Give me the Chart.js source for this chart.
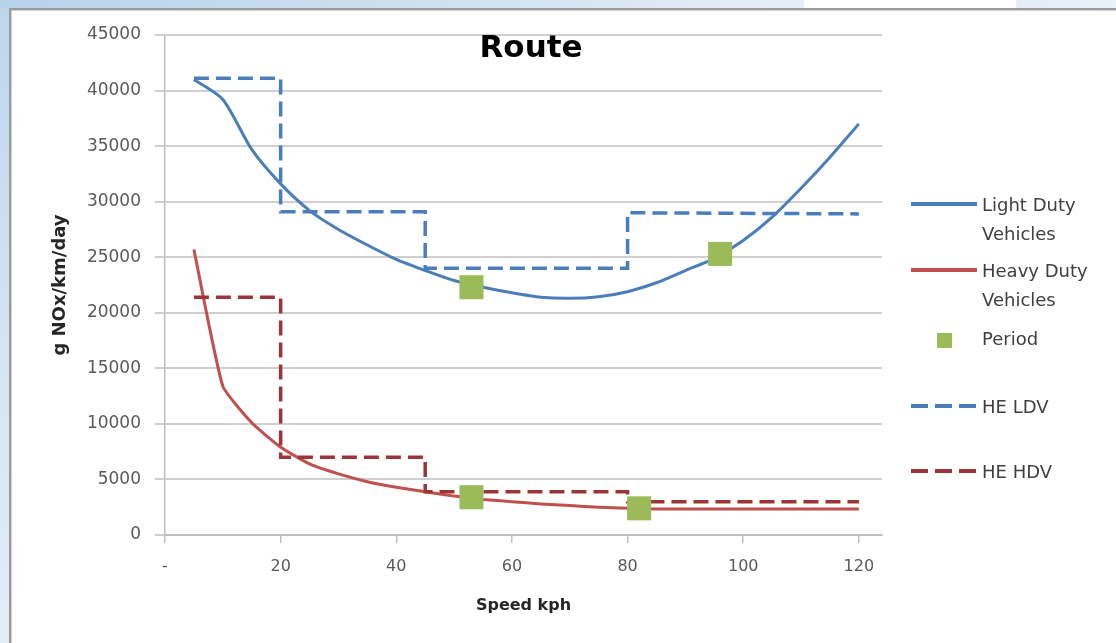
<!DOCTYPE html>
<html>
<head>
<meta charset="utf-8">
<script src="https://cdn.jsdelivr.net/npm/chart.js@4.4.0/dist/chart.umd.min.js"></script>
<style>
  html, body { margin: 0; padding: 0; }
  body { width: 1116px; height: 643px; overflow: hidden; position: relative;
         background: linear-gradient(to bottom, #bcd6ec 0%, #d6e6f3 60%, #e2edf7 100%); }
  .strip { position: absolute; left: 0; top: 0; width: 1116px; height: 8px;
           background: linear-gradient(to right, #b7d3ea 0%, #d3e3f1 45%, #e6eff8 72%, #ffffff 72.1%, #ffffff 91%, #e4eef7 91.1%, #e9f1f9 100%); }
  .panel { position: absolute; left: 9px; top: 8px; right: 0; bottom: 0; background: #fff;
           border-left: 2px solid #9a9a9a; border-top: 2px solid #9a9a9a;
           box-shadow: inset 1px 1px 1px #cfcfcf; }
  #wrap { position: absolute; left: 0; top: 0; width: 1116px; height: 643px; }
</style>
</head>
<body>
<div class="strip"></div>
<div class="panel"></div>
<div id="wrap"><canvas id="chart" width="1116" height="643"></canvas></div>
<script>
// ── Data ────────────────────────────────────────────────────────
const speeds = [5, 10, 15, 20, 25, 30, 35, 40, 45, 50, 55, 60, 65, 70, 75, 80, 85, 90, 95, 100, 105, 110, 115, 120];
const ldv    = [41000, 39200, 34700, 31600, 29200, 27500, 26100, 24800, 23800, 22900, 22300, 21800,
                21400, 21300, 21450, 21900, 22700, 23800, 24900, 26500, 28600, 31200, 34000, 37000];
const hdv    = [25700, 13400, 10100, 7900, 6400, 5500, 4800, 4300, 3900, 3500, 3200, 3000,
                2800, 2650, 2500, 2400, 2350, 2350, 2350, 2350, 2350, 2350, 2350, 2350];

const periodSpeed = [53, 96, 53, 82];
const periodValue = [22300, 25300, 3400, 2400];

const heLdvSpeed = [5, 20, 20, 45, 45, 80, 80, 120];
const heLdvValue = [41100, 41100, 29100, 29100, 24000, 24000, 29000, 28900];

const heHdvSpeed = [5, 20, 20, 45, 45, 80, 80, 120];
const heHdvValue = [21400, 21400, 7000, 7000, 3900, 3900, 3000, 3000];

const xTicks = [0, 20, 40, 60, 80, 100, 120];

const BLUE  = '#4a7ebb';
const RED   = '#c0504d';
const DKRED = '#9c3535';
const GREEN = '#9bbb59';
const FONT  = "'DejaVu Sans', sans-serif";

const pts = (xs, ys) => xs.map((x, i) => ({ x, y: ys[i] }));

// ── Title + side legend drawn on the canvas ─────────────────────
const decor = {
  id: 'decor',
  afterDraw(chart) {
    const ctx = chart.ctx;
    ctx.save();
    ctx.fillStyle = '#000';
    ctx.font = `bold 31px ${FONT}`;
    ctx.textAlign = 'center';
    ctx.textBaseline = 'middle';
    ctx.fillText('Route', 531, 49);

    const items = [
      { ds: 0, lines: ['Light Duty', 'Vehicles'], y: 206 },
      { ds: 1, lines: ['Heavy Duty', 'Vehicles'], y: 272 },
      { ds: 2, lines: ['Period'], y: 340 },
      { ds: 3, lines: ['HE LDV'], y: 408 },
      { ds: 4, lines: ['HE HDV'], y: 473 },
    ];
    ctx.textAlign = 'left';
    ctx.font = `18px ${FONT}`;
    items.forEach(it => {
      const d = chart.data.datasets[it.ds];
      if (d.showLine === false) {
        ctx.fillStyle = d.backgroundColor;
        ctx.fillRect(937, it.y - 7, 15, 15);
      } else {
        ctx.strokeStyle = d.borderColor;
        ctx.lineWidth = 4;
        ctx.lineCap = 'butt';
        ctx.setLineDash(d.borderDash ? [17, 7] : []);
        ctx.beginPath();
        ctx.moveTo(911, it.y - 2);
        ctx.lineTo(977, it.y - 2);
        ctx.stroke();
        ctx.setLineDash([]);
      }
      ctx.fillStyle = '#404040';
      it.lines.forEach((t, k) => ctx.fillText(t, 982, it.y + k * 29));
    });
    ctx.restore();
  }
};

new Chart(document.getElementById('chart'), {
  type: 'scatter',
  data: {
    datasets: [
      { label: 'Light Duty Vehicles', data: pts(speeds, ldv), showLine: true, borderColor: BLUE,
        borderWidth: 3, pointRadius: 0, tension: 0.25, order: 3 },
      { label: 'Heavy Duty Vehicles', data: pts(speeds, hdv), showLine: true, borderColor: RED,
        borderWidth: 3, pointRadius: 0, tension: 0.15, order: 4 },
      { label: 'Period', data: pts(periodSpeed, periodValue), showLine: false, pointStyle: 'rect',
        pointRadius: 17, backgroundColor: GREEN, borderWidth: 0, order: 0 },
      { label: 'HE LDV', data: pts(heLdvSpeed, heLdvValue), showLine: true, borderColor: BLUE,
        borderWidth: 3.5, borderDash: [15, 7], pointRadius: 0, order: 1 },
      { label: 'HE HDV', data: pts(heHdvSpeed, heHdvValue), showLine: true, borderColor: DKRED,
        borderWidth: 3.5, borderDash: [15, 7], pointRadius: 0, order: 2 },
    ]
  },
  options: {
    responsive: false,
    animation: false,
    devicePixelRatio: 1,
    layout: { padding: { left: 40, top: 35, right: 234, bottom: 8 } },
    plugins: { legend: { display: false }, tooltip: { enabled: false } },
    scales: {
      x: {
        type: 'linear',
        min: 0, max: 124,
        afterFit: (s) => { s.height = 100; },
        afterBuildTicks: (s) => { s.ticks = xTicks.map(v => ({ value: v })); },
        ticks: {
          font: { family: FONT, size: 16 }, color: '#595959', padding: 14,
          callback: (v) => v === 0 ? '-' : String(v)
        },
        grid: { drawOnChartArea: false, drawTicks: true, tickLength: 8, color: '#bfbfbf', lineWidth: 1.5 },
        border: { display: true, color: '#bfbfbf', width: 2 },
        title: { display: true, text: 'Speed kph', color: '#262626',
                 font: { family: FONT, size: 16, weight: 'bold' }, padding: { top: 20, bottom: 20 } }
      },
      y: {
        min: 0, max: 45000,
        afterFit: (s) => { s.width = 125; },
        ticks: { stepSize: 5000, font: { family: FONT, size: 17 }, color: '#595959', padding: 14,
                 callback: (v) => String(v) },
        grid: { color: '#cfcfcf', lineWidth: 2, tickLength: 10 },
        border: { display: true, color: '#bfbfbf', width: 1.5 },
        title: { display: true, text: 'g NOx/km/day', color: '#262626',
                 font: { family: FONT, size: 18, weight: 'bold' }, padding: { top: 10, bottom: 10 } }
      }
    }
  },
  plugins: [decor]
});
</script>
</body>
</html>
